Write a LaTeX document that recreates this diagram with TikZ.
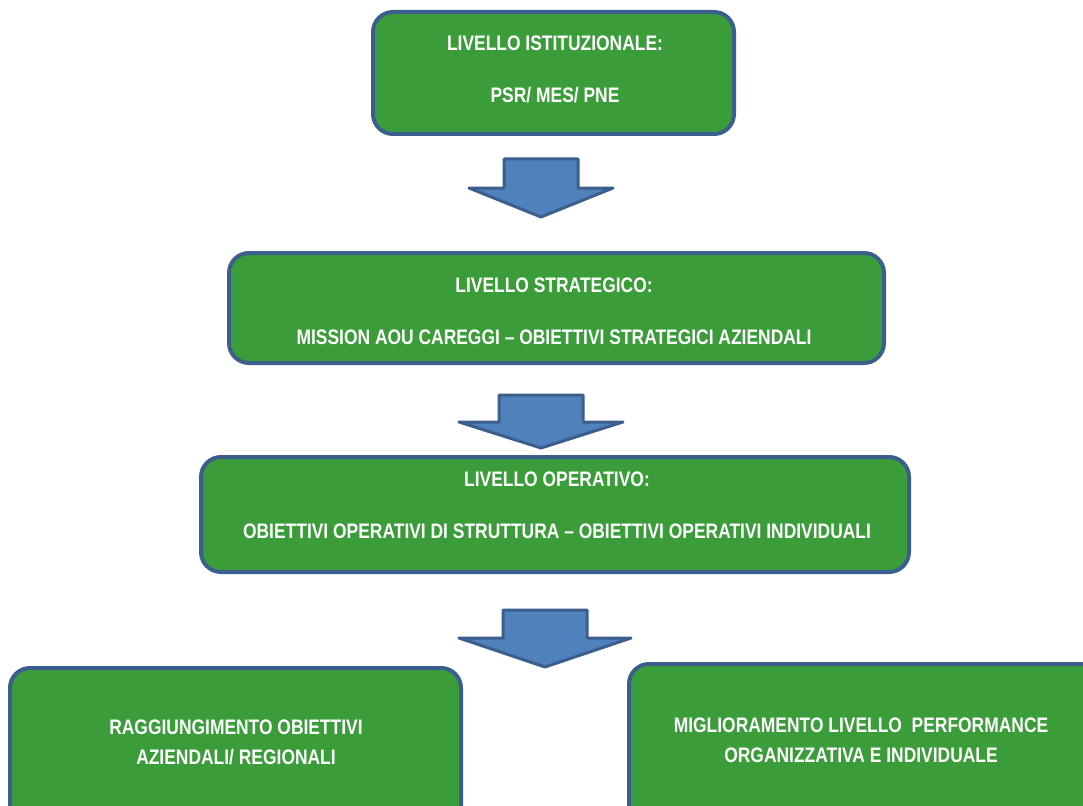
\documentclass[tikz,border=0pt]{standalone}
\usepackage{fontspec}
\newfontfamily\narrowsans{Liberation Sans}[FakeStretch=0.83, Ligatures=TeX]
\definecolor{boxgreen}{HTML}{3A9D3A}
\definecolor{edgeblue}{HTML}{3B5E8C}
\definecolor{arrowblue}{HTML}{4F81BD}
\tikzset{
  levelbox/.style={draw=edgeblue, line width=4pt, fill=boxgreen, rounded corners=20pt},
  leveltext/.style={text=white, align=center, inner sep=0pt,
    font=\narrowsans\bfseries\fontsize{21}{26}\selectfont},
  outcometext/.style={leveltext, font=\narrowsans\bfseries\fontsize{21}{30}\selectfont},
  blockarrow/.style={draw=edgeblue, line width=3pt, fill=arrowblue, line join=round}
}
% down-pointing block arrow: centre x, top y, shaft half width, shoulder y, wing half width, tip y
\newcommand{\downblock}[6]{%
  \draw[blockarrow] (#1-#3,#2) -- (#1+#3,#2) -- (#1+#3,#4) -- (#1+#5,#4)
    -- (#1,#6) -- (#1-#5,#4) -- (#1-#3,#4) -- cycle;}
\begin{document}
\begin{tikzpicture}[x=1pt, y=-1pt]
  \clip (0,0) rectangle (1083,805);
  \fill[white] (0,0) rectangle (1083,805);

  % institutional level
  \draw[levelbox] (373,12) rectangle (734,134);
  \node[leveltext] (inst) at (555,69) {LIVELLO ISTITUZIONALE:\\[26pt]PSR/ MES/ PNE};

  \downblock{541}{159}{37}{188}{72}{217}

  % strategic level
  \draw[levelbox] (229,253) rectangle (884,363);
  \node[leveltext] (strat) at (554,311) {LIVELLO STRATEGICO:\\[26pt]MISSION AOU CAREGGI – OBIETTIVI STRATEGICI AZIENDALI};

  \downblock{541}{395}{42}{422}{82}{448}

  % operational level
  \draw[levelbox] (201,457) rectangle (909,572);
  \node[leveltext] (oper) at (557,505) {LIVELLO OPERATIVO:\\[26pt]OBIETTIVI OPERATIVI DI STRUTTURA – OBIETTIVI OPERATIVI INDIVIDUALI};

  \downblock{545}{610}{42}{638}{86}{667}

  % outcomes
  \draw[levelbox] (10,668) rectangle (461,840);
  \node[outcometext] (goals) at (236,742) {RAGGIUNGIMENTO OBIETTIVI\\AZIENDALI/ REGIONALI};

  \draw[levelbox] (629,664) rectangle (1110,840);
  \node[outcometext] (perf) at (861,740) {MIGLIORAMENTO LIVELLO~ PERFORMANCE\\ORGANIZZATIVA E INDIVIDUALE};
\end{tikzpicture}
\end{document}
